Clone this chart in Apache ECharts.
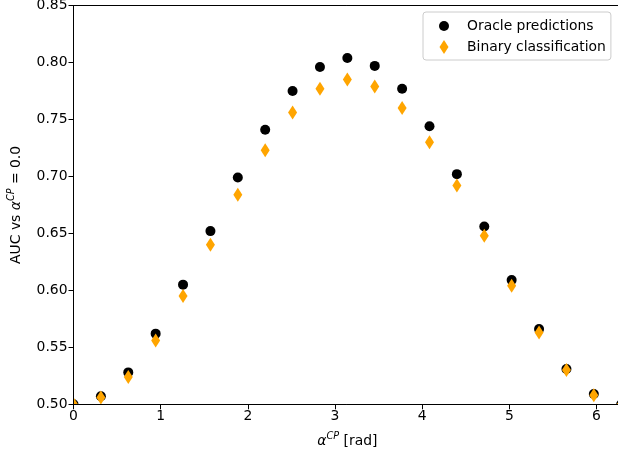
<!DOCTYPE html>
<html>
<head>
<meta charset="utf-8">
<script src="https://cdn.jsdelivr.net/npm/echarts@6/dist/echarts.min.js"></script>
<style>
html,body{margin:0;padding:0;background:#fff;}
#c{width:618px;height:457px;}
</style>
</head>
<body>
<div id="c"></div>
<script>
var alphaValues = [0, 0.3142, 0.6283, 0.9425, 1.2566, 1.5708, 1.8850, 2.1991, 2.5133, 2.8274, 3.1416, 3.4558, 3.7699, 4.0841, 4.3982, 4.7124, 5.0265, 5.3407, 5.6549, 5.9690, 6.2832];
var oracleAUC = [0.500, 0.507, 0.528, 0.562, 0.605, 0.652, 0.699, 0.741, 0.775, 0.796, 0.804, 0.797, 0.777, 0.744, 0.702, 0.656, 0.609, 0.566, 0.531, 0.509, 0.500];
var binaryAUC = [0.500, 0.506, 0.524, 0.556, 0.595, 0.640, 0.684, 0.723, 0.756, 0.777, 0.785, 0.779, 0.760, 0.730, 0.692, 0.648, 0.604, 0.563, 0.530, 0.508, 0.500];
var seriesNames = ['Oracle predictions', 'Binary classification'];
var xTicks = [0, 1, 2, 3, 4, 5, 6];
var yTicks = [0.50, 0.55, 0.60, 0.65, 0.70, 0.75, 0.80, 0.85];

var FONT = 'DejaVu Sans';
var FS = 13.9;
function pairs(xs, ys) { return xs.map(function (x, i) { return [x, ys[i]]; }); }
var diamondPath = 'path://M4.5,0L9,7L4.5,14L0,7Z';
var circlePath = 'path://M0,0M14,14M2,7A5,5,0,1,1,12,7A5,5,0,1,1,2,7Z';

var G = {left: 73.5, top: 5.5, width: 547.7, height: 398.8};

var chart = echarts.init(document.getElementById('c'), null, {renderer: 'canvas'});
var richName = {
  n: {fontFamily: FONT, fontSize: FS, color: '#000', lineHeight: 20},
  a: {fontFamily: FONT, fontSize: FS, fontStyle: 'italic', color: '#000', lineHeight: 20},
  s: {fontFamily: FONT, fontSize: 9.7, fontStyle: 'italic', color: '#000', lineHeight: 20, verticalAlign: 'top'}
};
chart.setOption({
  animation: false,
  backgroundColor: '#fff',
  grid: {left: G.left, top: G.top, width: G.width, height: G.height, containLabel: false, outerBoundsMode: 'none'},
  xAxis: [{
    type: 'value', min: 0, max: 6.2832, interval: 1, z: 5,
    name: '{a|α}{s|CP}{n| [rad]}', nameLocation: 'middle', nameGap: 27,
    nameTextStyle: {rich: richName},
    axisLine: {show: true, onZero: false, lineStyle: {color: '#000', width: 1}},
    axisTick: {show: true, length: 5, inside: false, lineStyle: {color: '#000', width: 1}},
    axisLabel: {
      fontFamily: FONT, fontSize: FS, color: '#000', margin: 5, showMaxLabel: false,
      formatter: function (v) { return xTicks.indexOf(v) >= 0 ? String(v) : ''; }
    },
    splitLine: {show: false}
  }, {
    type: 'value', position: 'top', min: 0, max: 6.2832, z: 5,
    axisLine: {show: true, onZero: false, lineStyle: {color: '#000', width: 1}},
    axisTick: {show: false}, axisLabel: {show: false}, splitLine: {show: false}
  }],
  yAxis: {
    type: 'value', min: 0.5, max: 0.85, interval: 0.05, z: 5,
    name: '{n|AUC vs }{a|α}{s|CP}{n| = 0.0}', nameLocation: 'middle', nameRotate: 90, nameGap: 47,
    nameTextStyle: {rich: richName},
    axisLine: {show: true, onZero: false, lineStyle: {color: '#000', width: 1}},
    axisTick: {show: true, length: 5, inside: false, lineStyle: {color: '#000', width: 1}},
    axisLabel: {
      fontFamily: FONT, fontSize: FS, color: '#000', margin: 6,
      formatter: function (v) { return v.toFixed(2); }
    },
    splitLine: {show: false}
  },
  graphic: [
    {type: 'rect', z: 2, silent: true, shape: {x: 0, y: 0, width: G.left, height: 457}, style: {fill: '#fff'}},
    {type: 'rect', z: 2, silent: true, shape: {x: 0, y: G.top + G.height, width: 618, height: 60}, style: {fill: '#fff'}},
    {type: 'rect', z: 2, silent: true, shape: {x: 0, y: 0, width: 618, height: G.top}, style: {fill: '#fff'}}
  ],
  legend: {
    left: 423, top: 12, orient: 'vertical', z: 6,
    padding: [7, 5, 6, 14], itemGap: 7, itemWidth: 36, itemHeight: 14,
    borderColor: '#cccccc', borderWidth: 1, borderRadius: 3, backgroundColor: 'rgba(255,255,255,0.8)',
    textStyle: {fontFamily: FONT, fontSize: FS, color: '#000'},
    data: [
      {name: seriesNames[0], icon: circlePath},
      {name: seriesNames[1], icon: diamondPath}
    ]
  },
  series: [{
    name: seriesNames[0], type: 'scatter', clip: false, z: 1,
    symbol: 'circle', symbolSize: 10,
    itemStyle: {color: '#000000', opacity: 1},
    data: pairs(alphaValues, oracleAUC)
  }, {
    name: seriesNames[1], type: 'scatter', clip: false, z: 1.5,
    symbol: diamondPath, symbolSize: [9, 14],
    itemStyle: {color: '#FFA500', opacity: 1},
    data: pairs(alphaValues, binaryAUC)
  }]
});
</script>
</body>
</html>
